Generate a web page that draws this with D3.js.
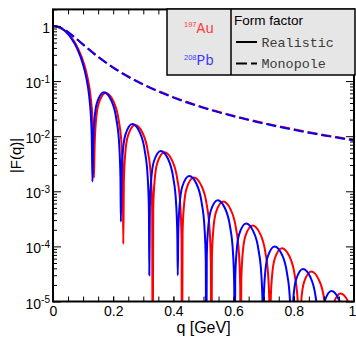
<!DOCTYPE html>
<html>
<head>
<meta charset="utf-8">
<script src="https://cdn.jsdelivr.net/npm/d3@7"></script>
<style>
  body { margin: 0; background: #fff; }
  svg { display: block; font-family: "Liberation Sans", Arial, sans-serif; }
  .mono { font-family: "Liberation Mono", "Courier New", monospace; }
</style>
</head>
<body>
<svg id="chart" width="356" height="340"></svg>
<script>
// |F(q)|, [q in GeV, |F|]
var auRealistic = [
  [0, 1], [0.0208, 0.949], [0.0415, 0.808], [0.0623, 0.608], [0.083, 0.392], [0.1038, 0.199],
  [0.1142, 0.119], [0.1246, 0.0542], [0.1308, 0.0223], [0.1339, 0.0085], [0.136, 0.00175],
  [0.138, 0.00585], [0.1419, 0.0167], [0.1516, 0.039], [0.1753, 0.0607], [0.2004, 0.0433],
  [0.2179, 0.0199], [0.2277, 0.007], [0.232, 0.00169], [0.2335, 0.00011],
  [0.2355, 0.00153], [0.2394, 0.00438], [0.2491, 0.01022], [0.2728, 0.0159], [0.2979, 0.01133],
  [0.3154, 0.0052], [0.3252, 0.00183], [0.3295, 0.000443], [0.331, 1e-7],
  [0.333, 0.000492], [0.3369, 0.001405], [0.3466, 0.00328], [0.3703, 0.0051], [0.3954, 0.00364],
  [0.4129, 0.00167], [0.4227, 0.000588], [0.427, 0.000142], [0.4285, 1e-7],
  [0.4305, 0.000172], [0.4344, 0.00049], [0.4441, 0.001144], [0.4678, 0.00178], [0.4929, 0.001269],
  [0.5104, 0.000583], [0.5202, 0.000205], [0.5245, 4.96e-5], [0.526, 1e-7],
  [0.528, 6.27e-5], [0.5319, 1.79e-4], [0.5416, 4.18e-4], [0.5653, 6.5e-4], [0.5904, 4.63e-4],
  [0.6079, 2.13e-4], [0.6177, 7.49e-5], [0.622, 1.81e-5], [0.6235, 1e-7],
  [0.6255, 2.31e-5], [0.6294, 6.61e-5], [0.6391, 1.54e-4], [0.6628, 2.4e-4], [0.6879, 1.71e-4],
  [0.7054, 7.86e-5], [0.7152, 2.77e-5], [0.7195, 6.7e-6], [0.721, 1e-7],
  [0.723, 8.97e-6], [0.7269, 2.56e-5], [0.7366, 5.98e-5], [0.7603, 9.3e-5], [0.7854, 6.63e-5],
  [0.8029, 3.04e-5], [0.8127, 1.07e-5], [0.817, 2.6e-6], [0.8185, 1e-7],
  [0.8205, 3.37e-6], [0.8244, 9.64e-6], [0.8341, 2.25e-5], [0.8578, 3.5e-5], [0.8829, 2.5e-5],
  [0.9004, 1.15e-5], [0.9102, 4.0e-6], [0.9145, 9.8e-7], [0.916, 1e-7],
  [0.918, 1.35e-6], [0.9219, 3.86e-6], [0.9316, 9.0e-6], [0.9553, 1.4e-5], [0.9804, 9.98e-6],
  [0.9979, 4.58e-6], [1.0, 4.0e-6]
];

var pbRealistic = [
  [0, 1], [0.02, 0.949], [0.04, 0.808], [0.06, 0.608], [0.08, 0.392], [0.1, 0.199],
  [0.11, 0.119], [0.12, 0.0542], [0.126, 0.0223], [0.129, 0.0085], [0.131, 0.0015],
  [0.1329, 0.00603], [0.1367, 0.0172], [0.1461, 0.0402], [0.1691, 0.0626], [0.1934, 0.0446],
  [0.2104, 0.0205], [0.2198, 0.00722], [0.2241, 0.00174], [0.2255, 0.00028],
  [0.2274, 0.0016], [0.2312, 0.00457], [0.2406, 0.01067], [0.2636, 0.0166], [0.2879, 0.01183],
  [0.3049, 0.00543], [0.3143, 0.00191], [0.3186, 0.000462], [0.32, 0.00003],
  [0.3219, 0.00052], [0.3257, 0.001487], [0.3351, 0.00347], [0.3581, 0.0054], [0.3824, 0.00385],
  [0.3994, 0.001767], [0.4088, 0.000623], [0.4131, 0.00015], [0.4145, 0.00003],
  [0.4164, 0.000183], [0.4202, 0.000523], [0.4296, 0.00122], [0.4526, 0.0019], [0.4769, 0.001355],
  [0.4939, 0.000622], [0.5033, 0.000219], [0.5076, 5.29e-5], [0.509, 1e-7],
  [0.5109, 6.65e-5], [0.5147, 1.9e-4], [0.5241, 4.43e-4], [0.5471, 6.9e-4], [0.5714, 4.92e-4],
  [0.5884, 2.26e-4], [0.5978, 7.96e-5], [0.6021, 1.92e-5], [0.6035, 1e-7],
  [0.6054, 2.51e-5], [0.6092, 7.16e-5], [0.6186, 1.67e-4], [0.6416, 2.6e-4], [0.6659, 1.85e-4],
  [0.6829, 8.51e-5], [0.6923, 3.0e-5], [0.6966, 7.2e-6], [0.698, 1e-7],
  [0.6999, 9.6e-6], [0.7037, 2.75e-5], [0.7131, 6.43e-5], [0.7361, 1.0e-4], [0.7604, 7.13e-5],
  [0.7774, 3.27e-5], [0.7868, 1.15e-5], [0.7911, 2.8e-6], [0.7925, 1e-7],
  [0.7944, 3.8e-6], [0.7982, 1.07e-5], [0.8076, 2.51e-5], [0.8306, 3.9e-5], [0.8549, 2.78e-5],
  [0.8719, 1.28e-5], [0.8813, 4.5e-6], [0.8856, 1.1e-6], [0.887, 1e-7],
  [0.8889, 1.5e-6], [0.8927, 4.27e-6], [0.9021, 9.96e-6], [0.9251, 1.55e-5], [0.9494, 1.1e-5],
  [0.9664, 5.07e-6], [0.9758, 1.8e-6], [0.9801, 4.3e-7], [0.9815, 1e-7],
  [0.99, 2e-6], [1.0, 5e-6]
];

var monopoleQ  = [0, 0.0125, 0.025, 0.05, 0.075, 0.1, 0.15, 0.2, 0.25, 0.3, 0.4, 0.5, 0.6, 0.7, 0.8, 0.9, 1.0];
var auMonopole = [1, 0.982, 0.933, 0.776, 0.606, 0.4638, 0.2777, 0.1778, 0.1216, 0.0877, 0.0513, 0.0334, 0.02346, 0.01735, 0.01333, 0.01057, 0.00857];
var pbMonopole = [1, 0.982, 0.931, 0.772, 0.601, 0.458, 0.273, 0.1746, 0.1193, 0.086, 0.0502, 0.0327, 0.023, 0.017, 0.01305, 0.01034, 0.00839];

var xMajorTicks = [0, 0.2, 0.4, 0.6, 0.8, 1];
var xMinorTicks = d3.range(0, 1.0001, 0.05);
var yDecades = [1e-5, 1e-4, 1e-3, 1e-2, 1e-1, 1];
var nuclei = [
  { mass: "197", name: "Au", color: "#ff3b3b" },
  { mass: "208", name: "Pb", color: "#3b3bff" }
];
var styles = ["Realistic", "Monopole"];

var svg = d3.select("#chart");
var plotLeft = 53, plotRight = 354, plotTop = 9.4, plotBottom = 301.5;

var x = d3.scaleLinear().domain([0, 1]).range([plotLeft, plotRight]);
var y = d3.scaleLog().domain([1e-5, 2]).range([plotBottom, plotTop]);

var yMinor = [];
yDecades.forEach(function (d) {
  for (var k = 2; k <= 9; k++) if (d * k <= 2) yMinor.push(d * k);
});

svg.append("defs").append("clipPath").attr("id", "plotclip")
  .append("rect")
  .attr("x", plotLeft).attr("y", plotTop)
  .attr("width", plotRight - plotLeft).attr("height", plotBottom - plotTop);

// curves
var line = d3.line()
  .x(function (d) { return x(d[0]); })
  .y(function (d) { return y(d[1]); })
  .curve(d3.curveMonotoneX);

var curves = svg.append("g").attr("clip-path", "url(#plotclip)");

function zipMono(vals) {
  return monopoleQ.map(function (q, i) { return [q, vals[i]]; });
}

curves.append("path").datum(auRealistic)
  .attr("d", line).attr("fill", "none").attr("stroke", "#ff0000").attr("stroke-width", 2);
curves.append("path").datum(pbRealistic)
  .attr("d", line).attr("fill", "none").attr("stroke", "#0000ff").attr("stroke-width", 2);
curves.append("path").datum(zipMono(auMonopole))
  .attr("d", line).attr("fill", "none").attr("stroke", "#ff0000").attr("stroke-width", 2)
  .attr("stroke-dasharray", "10,4");
curves.append("path").datum(zipMono(pbMonopole))
  .attr("d", line).attr("fill", "none").attr("stroke", "#0000ff").attr("stroke-width", 2)
  .attr("stroke-dasharray", "10,4");

// axes, ROOT style: ticks inside the frame
function styleAxis(g) {
  g.select(".domain").remove();
  g.selectAll(".tick line").attr("stroke", "#000").attr("stroke-width", 1);
  g.attr("font-family", null).attr("font-size", null);
}

svg.append("g").attr("transform", "translate(0," + plotBottom + ")")
  .call(d3.axisBottom(x).tickValues(xMinorTicks).tickSize(-5).tickFormat(""))
  .call(styleAxis);
var xAxis = svg.append("g").attr("transform", "translate(0," + plotBottom + ")")
  .call(d3.axisBottom(x).tickValues(xMajorTicks).tickSize(-5).tickPadding(5)
    .tickFormat(function (d) { return d3.format("")(d); }))
  .call(styleAxis);
xAxis.selectAll("text").attr("font-size", 14).attr("fill", "#000")
  .attr("dx", function (d) { return d === 1 ? -2 : null; });

svg.append("g").attr("transform", "translate(0," + plotTop + ")")
  .call(d3.axisTop(x).tickValues(xMinorTicks).tickSize(-5).tickFormat(""))
  .call(styleAxis);

svg.append("g").attr("transform", "translate(" + plotLeft + ",0)")
  .call(d3.axisLeft(y).tickValues(yMinor).tickSize(-4).tickFormat(""))
  .call(styleAxis);
svg.append("g").attr("transform", "translate(" + plotRight + ",0)")
  .call(d3.axisRight(y).tickValues(yMinor).tickSize(-4).tickFormat(""))
  .call(styleAxis);
svg.append("g").attr("transform", "translate(" + plotRight + ",0)")
  .call(d3.axisRight(y).tickValues(yDecades).tickSize(-8).tickFormat(""))
  .call(styleAxis);

var yAxis = svg.append("g").attr("transform", "translate(" + plotLeft + ",0)")
  .call(d3.axisLeft(y).tickValues(yDecades).tickSize(-8).tickFormat(""))
  .call(styleAxis);

yAxis.selectAll(".tick").each(function (d) {
  var t = d3.select(this).select("text")
    .attr("x", -3).attr("dy", null).attr("y", 6.5)
    .attr("font-size", 14).attr("fill", "#000")
    .attr("text-anchor", "end");
  var e = Math.round(Math.log10(d));
  if (e === 0) {
    t.text("1");
  } else {
    t.text("");
    t.append("tspan").text("10");
    t.append("tspan").attr("font-size", 10).attr("dy", -5.5).text(String(e));
  }
});

// frame
svg.append("rect")
  .attr("x", plotLeft).attr("y", plotTop)
  .attr("width", plotRight - plotLeft).attr("height", plotBottom - plotTop)
  .attr("fill", "none").attr("stroke", "#000").attr("stroke-width", 2);

// titles
svg.append("text")
  .attr("x", (plotLeft + plotRight) / 2).attr("y", 333)
  .attr("text-anchor", "middle").attr("font-size", 16)
  .text("q [GeV]");

svg.append("text")
  .attr("transform", "translate(21," + ((plotTop + plotBottom) / 2) + ") rotate(-90)")
  .attr("text-anchor", "middle").attr("font-size", 15)
  .text("|F(q)|");

// legend
var legend = svg.append("g");
legend.append("rect")
  .attr("x", 167).attr("y", 9).attr("width", 188).attr("height", 66)
  .attr("fill", "#e6e6e6").attr("stroke", "#000").attr("stroke-width", 1.5);
legend.append("line")
  .attr("x1", 231).attr("x2", 231).attr("y1", 9).attr("y2", 75)
  .attr("stroke", "#000").attr("stroke-width", 1.5);

nuclei.forEach(function (n, i) {
  var t = legend.append("text")
    .attr("x", 199).attr("y", 32.5 + i * 32.5)
    .attr("text-anchor", "middle").attr("fill", n.color);
  t.append("tspan").attr("font-size", 7.5).attr("dy", -5.5).text(n.mass);
  t.append("tspan").attr("class", "mono").attr("font-size", 14.5).attr("dy", 5.5).text(n.name);
});

legend.append("text")
  .attr("x", 234).attr("y", 25)
  .attr("font-size", 13.5).attr("fill", "#000")
  .text("Form factor");

styles.forEach(function (s, i) {
  var ly = 42 + i * 21.5;
  legend.append("line")
    .attr("x1", 236).attr("x2", 257).attr("y1", ly).attr("y2", ly)
    .attr("stroke", "#000").attr("stroke-width", 2)
    .attr("stroke-dasharray", i === 1 ? "11,4" : null);
  legend.append("text")
    .attr("class", "mono")
    .attr("x", 261.5).attr("y", ly + 4.8)
    .attr("font-size", 13.4).attr("fill", "#3a3a3a")
    .text(s);
});
</script>
</body>
</html>
